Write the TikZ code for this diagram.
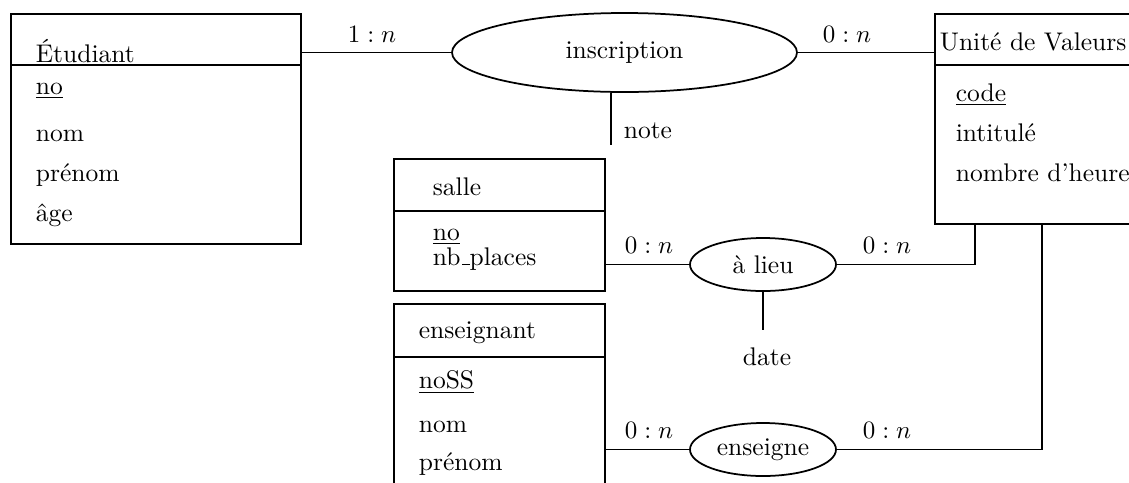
\documentclass[tikz,border=0pt]{standalone}
\usepackage{fontspec}
\usetikzlibrary{shapes.geometric,calc}
\newcommand{\lowbar}{\kern.06em\vbox{\hrule width.3em height.5pt}}
\begin{document}
\begin{tikzpicture}[x=0.4pt,y=-0.4pt, line width=0.7pt,
  font=\fontsize{10.2}{12.2}\selectfont,
  ent/.style={draw, rectangle, anchor=north west, inner sep=0pt},
  rel/.style={draw, ellipse, inner sep=0pt},
  txt/.style={anchor=base west, inner sep=0pt},
  card/.style={anchor=base, inner sep=0pt}]
\path[use as bounding box, clip] (0,0) rectangle (1129,482);
% entities
\node[ent, minimum width=116pt, minimum height=92pt] (etu) at (10,13) {};
\draw (etu.west |- 0,65) -- (etu.east |- 0,65);
\node[txt] (etuh) at (35,62) {Étudiant};
\node[txt] (etu1) at (35,94) {\underline{no}};
\node[txt] (etu2) at (35,141) {nom};
\node[txt] (etu3) at (35,181) {prénom};
\node[txt] (etu4) at (35,221) {âge};

\node[ent, minimum width=98.4pt, minimum height=84pt] (uv) at (934,13) {};
\draw (uv.west |- 0,65) -- (uv.east |- 0,65);
\node[txt] (uvh) at (939,50) {Unité de Valeurs};
\node[txt] (uv1) at (955,101) {\underline{code}};
\node[txt] (uv2) at (955,141) {intitulé};
\node[txt] (uv3) at (955,181) {nombre d'heures};

\node[ent, minimum width=84.4pt, minimum height=52.8pt] (salle) at (393,158) {};
\draw (salle.west |- 0,211) -- (salle.east |- 0,211);
\node[txt] (salleh) at (432,195) {salle};
\node[txt] (salle1) at (432,240) {\underline{no}};
\node[txt] (salle2) at (432,265) {nb\lowbar places};

\node[ent, minimum width=84.4pt, minimum height=90pt] (ens) at (393,303) {};
\draw (ens.west |- 0,357) -- (ens.east |- 0,357);
\node[txt] (ensh) at (418,338) {enseignant};
\node[txt] (ens1) at (418,388) {\underline{noSS}};
\node[txt] (ens2) at (418,432) {nom};
\node[txt] (ens3) at (418,470) {prénom};

% relations
\node[rel, minimum width=138pt, minimum height=31.6pt] (insc) at (624.5,52.5) {\raisebox{-4.3pt}{inscription}};
\node[rel, minimum width=58.4pt, minimum height=21.2pt] (alieu) at (763,264.5) {à lieu};
\node[rel, minimum width=58.4pt, minimum height=21.2pt] (enseigne) at (763,449.5) {enseigne};

% connectors
\draw (etu.east |- insc.west) -- (insc.west);
\draw (insc.east) -- (uv.west |- insc.east);
\coordinate (noteend) at (611,145);
\draw (insc.south -| noteend) -- (noteend);
\draw (salle.east |- alieu.west) -- (alieu.west);
\draw (alieu.east) -| ($(uv.south west)+(41,0)$);
\coordinate (dateend) at (763,330);
\draw (alieu.south) -- (dateend);
\draw (ens.east |- enseigne.west) -- (enseigne.west);
\draw (enseigne.east) -| ($(uv.south west)+(108,0)$);

% attribute labels
\node[txt] (note) at (623,138) {note};
\node[card] (date) at (767,365) {date};

% cardinalities
\node[card] (c1) at (372,42) {$1:n$};
\node[card] (c2) at (847,42) {$0:n$};
\node[card] (c3) at (649,253) {$0:n$};
\node[card] (c4) at (887,253) {$0:n$};
\node[card] (c5) at (649,438) {$0:n$};
\node[card] (c6) at (887,438) {$0:n$};
\end{tikzpicture}
\end{document}
